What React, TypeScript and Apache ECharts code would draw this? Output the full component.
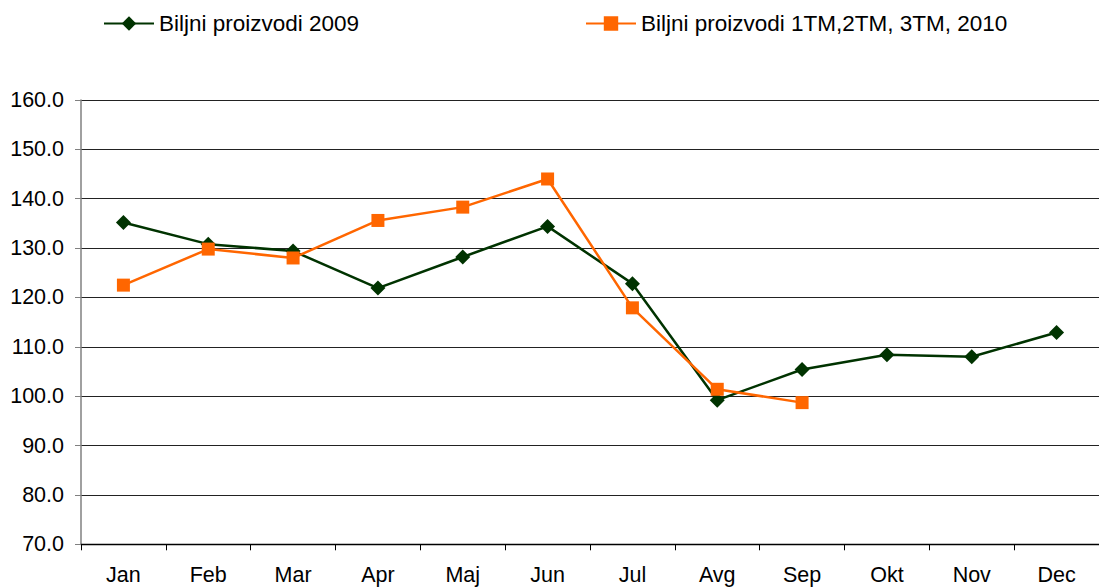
import React, { useEffect, useRef } from "react";
import * as echarts from "echarts";

const categories = ["Jan", "Feb", "Mar", "Apr", "Maj", "Jun", "Jul", "Avg", "Sep", "Okt", "Nov", "Dec"];
const series2009 = [135.2, 130.8, 129.4, 121.9, 128.2, 134.4, 122.8, 99.2, 105.4, 108.4, 108.0, 112.9];
const series2010 = [122.5, 129.8, 128.0, 135.6, 138.3, 144.0, 117.9, 101.4, 98.7];
const name2009 = "Biljni proizvodi 2009";
const name2010 = "Biljni proizvodi 1TM,2TM, 3TM, 2010";

export default function App() {
  const ref = useRef<HTMLDivElement>(null);
  useEffect(() => {
    if (!ref.current) return;
    const chart = echarts.init(ref.current, null, { renderer: "svg" });
    const font = "Liberation Sans, Arial, sans-serif";
    const legendCommon = {
      top: 12,
      padding: 0,
      itemWidth: 50,
      itemHeight: 18,
      itemGap: 4,
      textStyle: { fontFamily: font, fontSize: 22.5, color: "#000" },
    };
    chart.setOption({
      animation: false,
      backgroundColor: "#ffffff",
      legend: [
        { ...legendCommon, data: [name2009], left: 103 },
        { ...legendCommon, data: [name2010], left: 585 },
      ],
      grid: { left: 81, top: 100, width: 1028, height: 444.3, containLabel: false },
      xAxis: {
        type: "category",
        data: categories,
        boundaryGap: true,
        axisLine: { lineStyle: { color: "#000", width: 1.3 } },
        axisTick: { show: true, length: 6, inside: false, lineStyle: { color: "#000" } },
        axisLabel: { fontFamily: font, fontSize: 21.5, color: "#000", margin: 20 },
      },
      yAxis: {
        type: "value",
        min: 70,
        max: 160,
        interval: 10,
        axisLine: { show: true, lineStyle: { color: "#808080", width: 1.5 } },
        axisTick: { show: true, length: 6, lineStyle: { color: "#808080" } },
        axisLabel: {
          fontFamily: font,
          fontSize: 21.5,
          color: "#000",
          margin: 17,
          formatter: (v: number) => v.toFixed(1),
        },
        splitLine: { show: true, lineStyle: { color: "#222", width: 1 } },
      },
      series: [
        {
          name: name2009,
          type: "line",
          data: series2009,
          symbol: "diamond",
          symbolSize: 15,
          lineStyle: { color: "#003300", width: 2.5 },
          itemStyle: { color: "#003300" },
          z: 2,
        },
        {
          name: name2010,
          type: "line",
          data: series2010,
          symbol: "rect",
          symbolSize: 13,
          lineStyle: { color: "#ff6600", width: 2.5 },
          itemStyle: { color: "#ff6600" },
          z: 3,
        },
      ],
    });
    return () => chart.dispose();
  }, []);
  return (
    <div
      ref={ref}
      style={{ position: "absolute", left: 0, top: 0, width: 1099, height: 587 }}
    />
  );
}
